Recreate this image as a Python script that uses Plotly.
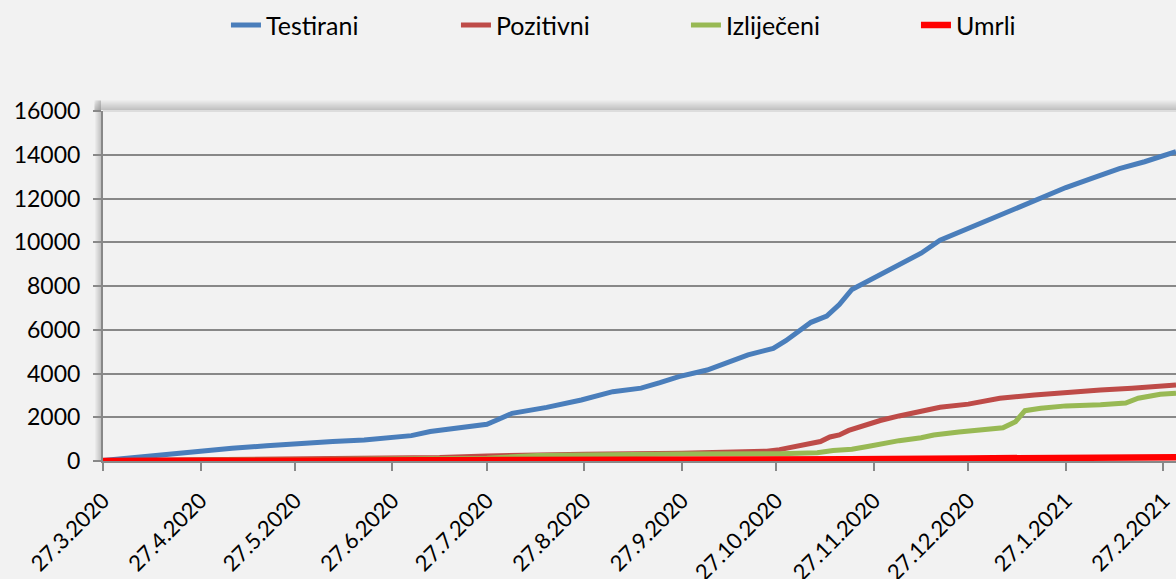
import plotly.graph_objects as go

# ---------------- data ----------------
TICK_DATES = ["2020-03-27", "2020-04-27", "2020-05-27", "2020-06-27", "2020-07-27",
              "2020-08-27", "2020-09-27", "2020-10-27", "2020-11-27", "2020-12-27",
              "2021-01-27", "2021-02-27"]
TICK_LABELS = ["27.3.2020", "27.4.2020", "27.5.2020", "27.6.2020", "27.7.2020",
               "27.8.2020", "27.9.2020", "27.10.2020", "27.11.2020", "27.12.2020",
               "27.1.2021", "27.2.2021"]

testirani_dates = ["2020-03-27", "2020-04-05", "2020-04-16", "2020-04-27", "2020-05-07",
                   "2020-05-18", "2020-05-28", "2020-06-08", "2020-06-18", "2020-06-27",
                   "2020-07-03", "2020-07-09", "2020-07-20", "2020-07-27", "2020-07-30",
                   "2020-08-04", "2020-08-15", "2020-08-26", "2020-09-05", "2020-09-14",
                   "2020-09-20", "2020-09-26", "2020-10-05", "2020-10-13", "2020-10-18",
                   "2020-10-26", "2020-10-30", "2020-11-03", "2020-11-07", "2020-11-12",
                   "2020-11-16", "2020-11-20", "2020-11-25", "2020-11-29", "2020-12-05",
                   "2020-12-12", "2020-12-18", "2020-12-24", "2021-01-02", "2021-01-10",
                   "2021-01-19", "2021-01-27", "2021-02-04", "2021-02-13", "2021-02-21",
                   "2021-02-28", "2021-03-03"]
testirani = [20, 150, 260, 450, 580,
             700, 810, 890, 965, 1090,
             1160, 1350, 1580, 1680, 1860,
             2180, 2450, 2790, 3170, 3330,
             3580, 3860, 4160, 4590, 4850,
             5150, 5500, 5920, 6340, 6620,
             7150, 7840, 8220, 8500, 8990,
             9500, 10090, 10450, 10990, 11530,
             12040, 12500, 12910, 13370, 13680,
             13990, 14140]

pozitivni_dates = ["2020-03-27", "2020-04-27", "2020-05-27", "2020-06-27", "2020-07-12",
                   "2020-07-27", "2020-08-12", "2020-08-27", "2020-09-27", "2020-10-13",
                   "2020-10-24", "2020-10-28", "2020-11-01", "2020-11-06", "2020-11-10",
                   "2020-11-13", "2020-11-16", "2020-11-19", "2020-11-23", "2020-11-27",
                   "2020-11-29", "2020-12-05", "2020-12-12", "2020-12-18", "2020-12-27",
                   "2021-01-06", "2021-01-17", "2021-01-27", "2021-02-07", "2021-02-17",
                   "2021-02-26", "2021-03-03"]
pozitivni = [20, 50, 75, 110, 160,
             230, 280, 310, 350, 400,
             450, 520, 650, 780, 890,
             1100, 1190, 1400, 1580, 1720,
             1850, 2060, 2260, 2460, 2600,
             2870, 3020, 3140, 3250, 3330,
             3430, 3480]

izlijeceni_dates = ["2020-03-27", "2020-04-27", "2020-05-27", "2020-06-27", "2020-07-27",
                    "2020-08-12", "2020-08-27", "2020-09-27", "2020-10-28", "2020-11-07",
                    "2020-11-09", "2020-11-14", "2020-11-20", "2020-11-25", "2020-11-29",
                    "2020-12-05", "2020-12-12", "2020-12-16", "2020-12-24", "2021-01-04",
                    "2021-01-07", "2021-01-11", "2021-01-14", "2021-01-19", "2021-01-27",
                    "2021-02-07", "2021-02-15", "2021-02-19", "2021-02-26", "2021-03-03"]
izlijeceni = [0, 20, 60, 80, 130,
              250, 290, 320, 330, 340,
              380, 480, 540, 660, 780,
              930, 1060, 1190, 1330, 1450,
              1520, 1800, 2300, 2410, 2520,
              2570, 2650, 2870, 3050, 3100]

umrli_dates = ["2020-03-27", "2020-07-27", "2020-10-27", "2020-11-19", "2020-12-27",
               "2021-01-27", "2021-02-27", "2021-03-03"]
umrli = [0, 5, 20, 80, 120, 145, 165, 170]

SERIES = [
    ("Testirani", testirani_dates, testirani, "#4A7EBB", 5),
    ("Pozitivni", pozitivni_dates, pozitivni, "#BE4B48", 5),
    ("Izliječeni", izlijeceni_dates, izlijeceni, "#98B954", 5),
    ("Umrli", umrli_dates, umrli, "#FF0000", 6.5),
]

FONT = "Lato, 'Open Sans', sans-serif"
BG = "#F2F2F2"
GRID = "#888888"

fig = go.Figure()
for name, xs, ys, color, w in SERIES:
    fig.add_trace(go.Scatter(x=xs, y=ys, name=name, mode="lines",
                             line=dict(color=color, width=w)))

# Excel-like shadow on left and top edges of plot area
shapes = []
for i in range(6):
    a = 0.30 - i * 0.05
    shapes.append(dict(type="rect", xref="paper", yref="paper",
                       xsizemode="pixel", xanchor=0, x0=-2 - i, x1=-3 - i,
                       y0=0, y1=1.03, line=dict(width=0),
                       fillcolor=f"rgba(90,90,90,{a:.2f})", layer="below"))
for i in range(10):
    a = 0.32 - i * 0.032
    shapes.append(dict(type="rect", xref="paper", yref="paper",
                       ysizemode="pixel", yanchor=1, y0=1 + i, y1=2 + i,
                       x0=-0.008, x1=1.0, line=dict(width=0),
                       fillcolor=f"rgba(90,90,90,{a:.3f})", layer="below"))
shapes.append(dict(type="line", xref="paper", yref="paper", x0=0, x1=1, y0=1, y1=1,
                   line=dict(color="#D6D6D6", width=1.5), layer="below"))
fig.update_layout(shapes=shapes)

fig.update_layout(
    width=1176, height=579,
    paper_bgcolor=BG, plot_bgcolor=BG,
    margin=dict(l=103, r=0, t=111, b=118, autoexpand=False),
    font=dict(family=FONT, size=23, color="#000000"),
    showlegend=True,
    legend=dict(orientation="h", x=0.1146, xanchor="left", y=1.245, yanchor="middle",
                font=dict(family=FONT, size=25, color="#000000"),
                entrywidth=185, entrywidthmode="pixels",
                bgcolor="rgba(0,0,0,0)", tracegroupgap=0),
    xaxis=dict(type="date", range=["2020-03-27", "2021-03-03"],
               tickmode="array", tickvals=TICK_DATES, ticktext=TICK_LABELS,
               tickangle=-45, ticks="outside", ticklen=8, tickwidth=2, tickcolor=GRID,
               showline=True, linecolor=GRID, linewidth=2,
               showgrid=False, zeroline=False, ticklabelstandoff=8,
               tickfont=dict(family=FONT, size=22, color="#000000")),
    yaxis=dict(range=[0, 16000], dtick=2000, tick0=0, tickformat="d",
               ticks="outside", ticklen=8, tickwidth=2, tickcolor=GRID,
               showline=True, linecolor=GRID, linewidth=2,
               showgrid=True, gridcolor=GRID, gridwidth=2,
               zeroline=False, ticklabelstandoff=8,
               tickfont=dict(family=FONT, size=23, color="#000000")),
)

fig.write_html(
    "out.html",
    config={"displayModeBar": False},
    post_script="document.body.style.margin='0';document.body.style.padding='0';"
                "document.body.style.overflow='hidden';"
                "document.body.style.background='#F2F2F2';",
)
